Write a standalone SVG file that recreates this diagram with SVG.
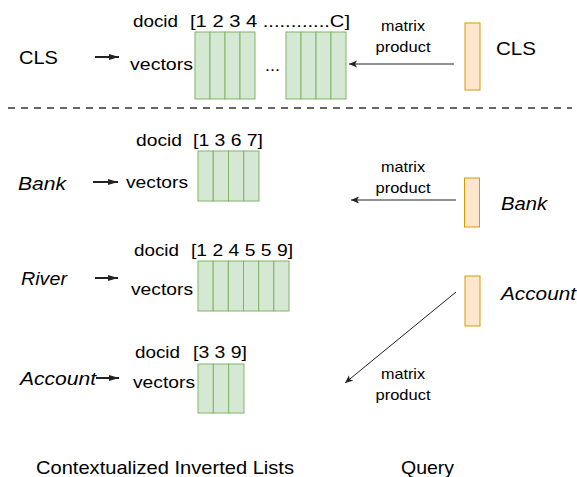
<svg xmlns="http://www.w3.org/2000/svg" width="577" height="477" viewBox="0 0 577 477">
<style>
text{font-family:"Liberation Sans",Arial,sans-serif;fill:#000}
.t16{font-size:17px}
.t18{font-size:19px}
.t13{font-size:15px}
.it{font-style:italic}
.g{fill:#d5e8d4;stroke:#82b366;stroke-width:1}
.o{fill:#ffe6cc;stroke:#d79b00;stroke-width:1}
.thin{stroke:#222;stroke-width:1;fill:none}
.thick{stroke:#222;stroke-width:2;fill:none}
</style>
<defs>
<marker id="ah" markerUnits="userSpaceOnUse" markerWidth="10" markerHeight="8" refX="8" refY="4" orient="auto">
<path d="M0,0.5 L8,4 L0,7.5 L2,4 z" fill="#222"/>
</marker>
<marker id="ahk" markerUnits="userSpaceOnUse" markerWidth="11" markerHeight="8" refX="10" refY="4" orient="auto">
<path d="M0,1 L10,4 L0,7 z" fill="#222"/>
</marker>
</defs>

<g id="separator">
<line x1="8" y1="108" x2="572" y2="108" stroke="#666" stroke-width="2" stroke-dasharray="7,6"/>
</g>

<g id="list-cls">
<text class="t18" x="19" y="64" textLength="39" lengthAdjust="spacingAndGlyphs">CLS</text>
<text class="t16" x="133" y="27" textLength="45" lengthAdjust="spacingAndGlyphs">docid</text>
<text class="t16" x="190" y="27" textLength="160" lengthAdjust="spacingAndGlyphs">[1 2 3 4 ............C]</text>
<text class="t16" x="130" y="70" textLength="63" lengthAdjust="spacingAndGlyphs">vectors</text>
<rect class="g" x="195" y="32" width="15" height="67"/>
<rect class="g" x="210" y="32" width="15" height="67"/>
<rect class="g" x="225" y="32" width="15" height="67"/>
<rect class="g" x="240" y="32" width="15" height="67"/>
<text class="t16" x="265" y="71" textLength="15" lengthAdjust="spacingAndGlyphs">...</text>
<rect class="g" x="286" y="32" width="15" height="67"/>
<rect class="g" x="301" y="32" width="15" height="67"/>
<rect class="g" x="316" y="32" width="15" height="67"/>
<rect class="g" x="331" y="32" width="15" height="67"/>
</g>

<g id="list-bank">
<text class="t18 it" x="18" y="190" textLength="48" lengthAdjust="spacingAndGlyphs">Bank</text>
<text class="t16" x="136" y="146" textLength="46" lengthAdjust="spacingAndGlyphs">docid</text>
<text class="t16" x="193" y="146" textLength="70" lengthAdjust="spacingAndGlyphs">[1 3 6 7]</text>
<text class="t16" x="126" y="188" textLength="62" lengthAdjust="spacingAndGlyphs">vectors</text>
<rect class="g" x="198" y="151" width="15.25" height="50"/>
<rect class="g" x="213.25" y="151" width="15.25" height="50"/>
<rect class="g" x="228.5" y="151" width="15.25" height="50"/>
<rect class="g" x="243.75" y="151" width="15.25" height="50"/>
</g>

<g id="list-river">
<text class="t18 it" x="21" y="285" textLength="46" lengthAdjust="spacingAndGlyphs">River</text>
<text class="t16" x="134" y="256" textLength="45" lengthAdjust="spacingAndGlyphs">docid</text>
<text class="t16" x="191" y="256" textLength="102" lengthAdjust="spacingAndGlyphs">[1 2 4 5 5 9]</text>
<text class="t16" x="131" y="295" textLength="62" lengthAdjust="spacingAndGlyphs">vectors</text>
<rect class="g" x="198" y="261" width="15.17" height="50"/>
<rect class="g" x="213.17" y="261" width="15.17" height="50"/>
<rect class="g" x="228.33" y="261" width="15.17" height="50"/>
<rect class="g" x="243.5" y="261" width="15.17" height="50"/>
<rect class="g" x="258.67" y="261" width="15.17" height="50"/>
<rect class="g" x="273.83" y="261" width="15.17" height="50"/>
</g>

<g id="list-account">
<text class="t18 it" x="20" y="385" textLength="76" lengthAdjust="spacingAndGlyphs">Account</text>
<text class="t16" x="135" y="358" textLength="45" lengthAdjust="spacingAndGlyphs">docid</text>
<text class="t16" x="193" y="358" textLength="54" lengthAdjust="spacingAndGlyphs">[3 3 9]</text>
<text class="t16" x="133" y="388" textLength="62" lengthAdjust="spacingAndGlyphs">vectors</text>
<rect class="g" x="198" y="364" width="15.33" height="49"/>
<rect class="g" x="213.33" y="364" width="15.33" height="49"/>
<rect class="g" x="228.67" y="364" width="15.33" height="49"/>
</g>

<g id="query-cls">
<rect class="o" x="465" y="23" width="15" height="67"/>
<text class="t18" x="496" y="55" textLength="40" lengthAdjust="spacingAndGlyphs">CLS</text>
</g>
<g id="query-bank">
<rect class="o" x="464.5" y="178" width="15" height="49"/>
<text class="t18 it" x="501" y="210" textLength="46" lengthAdjust="spacingAndGlyphs">Bank</text>
</g>
<g id="query-account">
<rect class="o" x="465" y="276" width="15" height="50"/>
<text class="t18 it" x="501" y="300" textLength="75" lengthAdjust="spacingAndGlyphs">Account</text>
</g>

<g id="connectors">
<line class="thick" x1="95" y1="57" x2="119" y2="57" marker-end="url(#ahk)"/>
<line class="thick" x1="93" y1="182" x2="118" y2="182" marker-end="url(#ahk)"/>
<line class="thick" x1="95" y1="278" x2="118" y2="278" marker-end="url(#ahk)"/>
<line class="thick" x1="96" y1="378" x2="119" y2="378" marker-end="url(#ahk)"/>
<line class="thin" x1="454" y1="64" x2="349" y2="64" marker-end="url(#ah)"/>
<line class="thin" x1="456" y1="200" x2="351" y2="200" marker-end="url(#ah)"/>
<line class="thin" x1="456" y1="292" x2="345" y2="383" marker-end="url(#ah)"/>
</g>

<g id="labels">
<text class="t13" x="403" y="31" text-anchor="middle" textLength="44" lengthAdjust="spacingAndGlyphs">matrix</text>
<text class="t13" x="403" y="52" text-anchor="middle" textLength="55" lengthAdjust="spacingAndGlyphs">product</text>
<text class="t13" x="403" y="172" text-anchor="middle" textLength="44" lengthAdjust="spacingAndGlyphs">matrix</text>
<text class="t13" x="403" y="193" text-anchor="middle" textLength="55" lengthAdjust="spacingAndGlyphs">product</text>
<text class="t13" x="403" y="379" text-anchor="middle" textLength="44" lengthAdjust="spacingAndGlyphs">matrix</text>
<text class="t13" x="403" y="400" text-anchor="middle" textLength="55" lengthAdjust="spacingAndGlyphs">product</text>
<text class="t18" x="36" y="474" textLength="258" lengthAdjust="spacingAndGlyphs">Contextualized Inverted Lists</text>
<text class="t18" x="401" y="474" textLength="53" lengthAdjust="spacingAndGlyphs">Query</text>
</g>
</svg>
